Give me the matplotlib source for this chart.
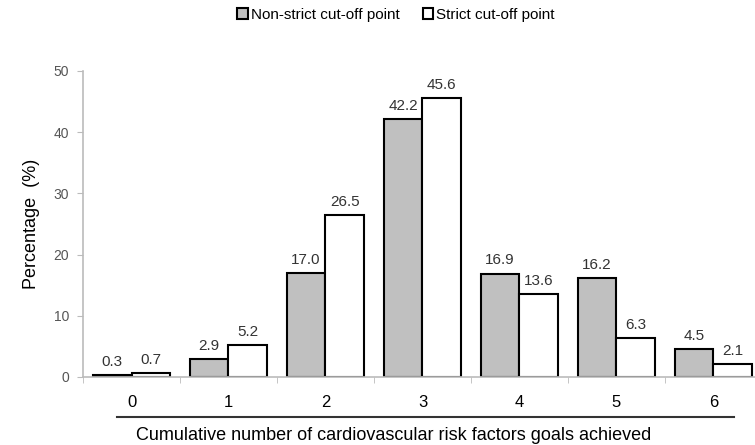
import numpy as np
import matplotlib.pyplot as plt
from matplotlib.lines import Line2D

plt.rcParams['font.family'] = ['Liberation Sans', 'DejaVu Sans']

goals = ['0', '1', '2', '3', '4', '5', '6']
non_strict = [0.3, 2.9, 17.0, 42.2, 16.9, 16.2, 4.5]
strict = [0.7, 5.2, 26.5, 45.6, 13.6, 6.3, 2.1]

fig = plt.figure(figsize=(7.55, 4.45), dpi=100)
ax = fig.add_axes([83 / 755, 68 / 445, 679 / 755, 306 / 445])

x = np.arange(len(goals))
w = 0.4
b1 = ax.bar(x - w / 2, non_strict, w, color='#c0c0c0', edgecolor='black',
            linewidth=1.5, label='Non-strict cut-off point')
b2 = ax.bar(x + w / 2, strict, w, color='white', edgecolor='black',
            linewidth=1.5, label='Strict cut-off point')

for bars, vals in ((b1, non_strict), (b2, strict)):
    for r, v in zip(bars, vals):
        ax.text(r.get_x() + r.get_width() / 2, v + 1.0, f'{v:.1f}',
                ha='center', va='bottom', fontsize=11, color='#333333')

ax.set_xlim(-0.5, 6.5)
ax.set_ylim(0, 50)
ax.set_yticks(range(0, 51, 10))
ax.set_xticks(x)
ax.set_xticklabels(goals, fontsize=12)
ax.set_xticks(np.arange(-0.5, 7, 1), minor=True)
ax.tick_params(axis='x', which='major', length=0, pad=13)
ax.tick_params(axis='x', which='minor', length=4, color='#bbbbbb', direction='out')
ax.tick_params(axis='y', length=4, color='#bbbbbb', labelsize=10, labelcolor='#555555', pad=6)

for s in ('top', 'right'):
    ax.spines[s].set_visible(False)
ax.spines['left'].set_color('#bbbbbb')
ax.spines['bottom'].set_color('#bbbbbb')
ax.spines['left'].set_linewidth(1.2)
ax.spines['bottom'].set_linewidth(1.2)

ax.set_ylabel('Percentage  (%)', fontsize=13, labelpad=10)
ax.set_xlabel('Cumulative number of cardiovascular risk factors goals achieved',
              fontsize=13)
ax.xaxis.set_label_coords(0.458, -0.163)

# rule between the category labels and the axis title
fig.add_artist(Line2D([117 / 755, 734 / 755], [1 - 417 / 445] * 2,
                      color='#333333', linewidth=1.5))

fig.legend(handles=[b1, b2], loc='center', bbox_to_anchor=(396 / 755, 1 - 15 / 445),
           ncol=2, frameon=False, fontsize=11, handlelength=0.7, handleheight=0.7,
           handletextpad=0.2, columnspacing=1.5)

fig.savefig('out.png', dpi=100)
